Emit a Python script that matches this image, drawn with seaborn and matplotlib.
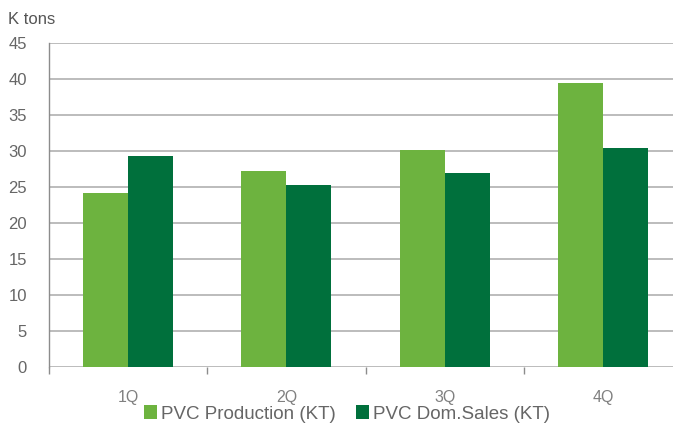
import matplotlib
matplotlib.use("Agg")
import matplotlib.pyplot as plt
import seaborn as sns
import pandas as pd
from matplotlib.patches import Patch

quarters = ["1Q", "2Q", "3Q", "4Q"]
production = [24.1, 27.2, 30.1, 39.4]
dom_sales = [29.3, 25.2, 26.9, 30.4]
series_names = ["PVC Production (KT)", "PVC Dom.Sales (KT)"]
colors = ["#6db33f", "#00703c"]
y_ticks = [0, 5, 10, 15, 20, 25, 30, 35, 40, 45]

df = pd.DataFrame({
    "quarter": quarters * 2,
    "value": production + dom_sales,
    "series": [series_names[0]] * 4 + [series_names[1]] * 4,
})

sns.set_theme(style="white")
plt.rcParams["font.family"] = ["Liberation Sans", "DejaVu Sans"]

fig = plt.figure(figsize=(6.73, 4.23), dpi=100)
ax = fig.add_axes([49 / 673, (423 - 366.7) / 423, (682 - 49) / 673, (366.7 - 43) / 423])

sns.barplot(data=df, x="quarter", y="value", hue="series", order=quarters,
            hue_order=series_names, palette=colors, width=0.57, gap=0,
            saturation=1, linewidth=0, ax=ax, legend=False)

ax.set_ylim(0, 45)
ax.set_xlim(-0.5, 3.5)
ax.set_yticks(y_ticks)
ax.yaxis.grid(True, color="#b0b0b0", linewidth=1.2)
ax.set_axisbelow(True)
ax.set_xlabel("")
ax.set_ylabel("")

for s in ["top", "right", "bottom"]:
    ax.spines[s].set_visible(False)
ax.spines["left"].set_color("#8c8c8c")
ax.spines["left"].set_linewidth(1.0)

ax.tick_params(axis="y", length=0, pad=16, labelsize=12, labelcolor="#666666")
ax.tick_params(axis="x", which="major", bottom=False, length=0, pad=17,
               labelsize=11.5, labelcolor="#808080")
ax.set_xticks([-0.5, 0.5, 1.5, 2.5, 3.5], minor=True)
ax.tick_params(axis="x", which="minor", bottom=True, length=5, width=1,
               color="#8c8c8c", direction="out")

fig.text(8 / 673, 1 - 19 / 423, "K tons", fontsize=12, color="#555555", va="center", ha="left")

handles = [Patch(facecolor=c, edgecolor="none") for c in colors]
fig.legend(handles, series_names, loc="center", bbox_to_anchor=(347 / 673, 1 - 414 / 423),
           ncol=2, frameon=False, fontsize=13.5, labelcolor="#666666",
           handlelength=0.7, handleheight=0.7, handletextpad=0.2, columnspacing=1.1,
           borderaxespad=0, borderpad=0)

fig.savefig("out.png", dpi=100)
